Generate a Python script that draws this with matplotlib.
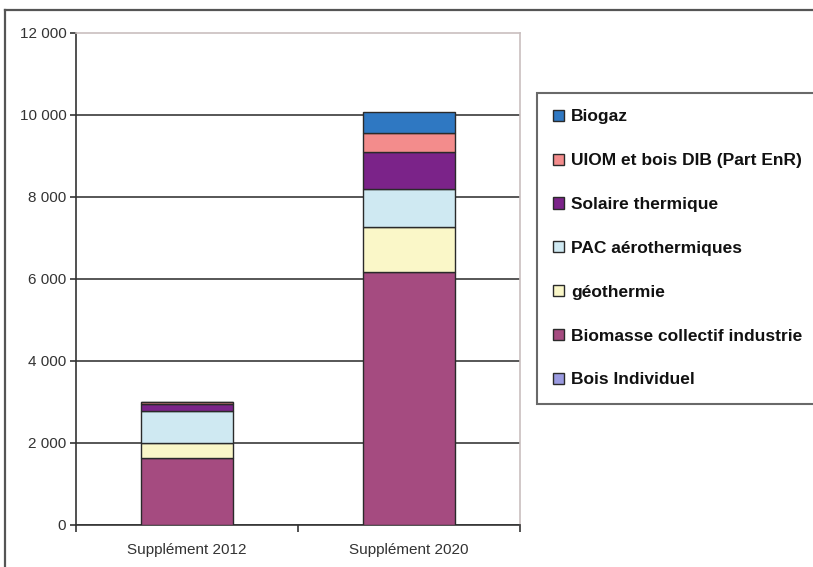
import matplotlib
matplotlib.use("Agg")
import matplotlib.pyplot as plt
from matplotlib.lines import Line2D
from matplotlib.ticker import FuncFormatter
import numpy as np

plt.rcParams["font.family"] = ["Liberation Sans", "DejaVu Sans"]

categories = ["Supplément 2012", "Supplément 2020"]

# stacking order, bottom to top
series = ["Bois Individuel", "Biomasse collectif industrie", "géothermie",
          "PAC aérothermiques", "Solaire thermique",
          "UIOM et bois DIB (Part EnR)", "Biogaz"]
bois_individuel = [0, 0]
biomasse = [1630, 6180]
geothermie = [370, 1100]
pac = [770, 910]
solaire = [170, 900]
uiom = [50, 480]
biogaz = [0, 510]
values = [bois_individuel, biomasse, geothermie, pac, solaire, uiom, biogaz]

colors = ["#9a9ae0", "#a54b80", "#faf7c8", "#cfe9f2", "#7b2389", "#f38c8c", "#2f78c2"]

yticks = [0, 2000, 4000, 6000, 8000, 10000, 12000]

W, H = 813, 567
fig = plt.figure(figsize=(W / 100, H / 100), dpi=100)
ax = fig.add_axes([76 / W, (H - 525) / H, 444 / W, 492 / H])

x = np.arange(len(categories))
bottom = np.zeros(len(categories))
handles = []
for name, vals, col in zip(series, values, colors):
    vals = np.asarray(vals, dtype=float)
    bars = ax.bar(x, vals, width=0.41, bottom=bottom, color=col,
                  edgecolor="#2a2a2a", linewidth=1.0, zorder=3, label=name)
    handles.append(bars)
    bottom += vals

ax.set_xlim(-0.5, 1.5)
ax.set_ylim(0, 12000)
ax.set_yticks(yticks)
ax.yaxis.set_major_formatter(FuncFormatter(lambda v, p: f"{int(v):,}".replace(",", " ")))
ax.tick_params(axis="y", direction="out", length=4, width=1.2, color="#333333",
               labelsize=11, labelcolor="#333333", pad=3)

ax.set_xticks(x)
ax.set_xticklabels(categories)
ax.set_xticks([-0.5, 0.5, 1.5], minor=True)
ax.tick_params(axis="x", which="major", length=0, labelsize=11,
               labelcolor="#333333", pad=13)
ax.tick_params(axis="x", which="minor", direction="out", length=5,
               width=1.2, color="#333333")

ax.yaxis.grid(True, color="#3a3a3a", linewidth=1.2, zorder=1)
ax.get_ygridlines()[-1].set_visible(False)
ax.set_axisbelow(True)

for side in ("left", "bottom"):
    ax.spines[side].set_color("#333333")
    ax.spines[side].set_linewidth(1.2)
for side in ("top", "right"):
    ax.spines[side].set_color("#c9bfbf")
    ax.spines[side].set_linewidth(1.2)

leg = fig.legend(handles[::-1], series[::-1], loc="upper left",
                 bbox_to_anchor=(537 / W, 1 - 93 / H),
                 prop={"weight": "bold", "size": 12.5},
                 frameon=True, fancybox=False, edgecolor="#444444",
                 handlelength=0.6, handleheight=0.6, handletextpad=0.4,
                 labelspacing=1.66, borderpad=0.95, borderaxespad=0)
leg.get_frame().set_linewidth(1.5)
for t in leg.get_texts():
    t.set_color("#111111")

# outer frame around the chart
fx, fy = 5 / W, 1 - 10 / H
fig.add_artist(Line2D([fx, 1.0], [fy, fy], transform=fig.transFigure,
                      color="#555555", linewidth=1.6))
fig.add_artist(Line2D([fx, fx], [0, fy], transform=fig.transFigure,
                      color="#555555", linewidth=1.6))

fig.savefig("out.png", dpi=100)
